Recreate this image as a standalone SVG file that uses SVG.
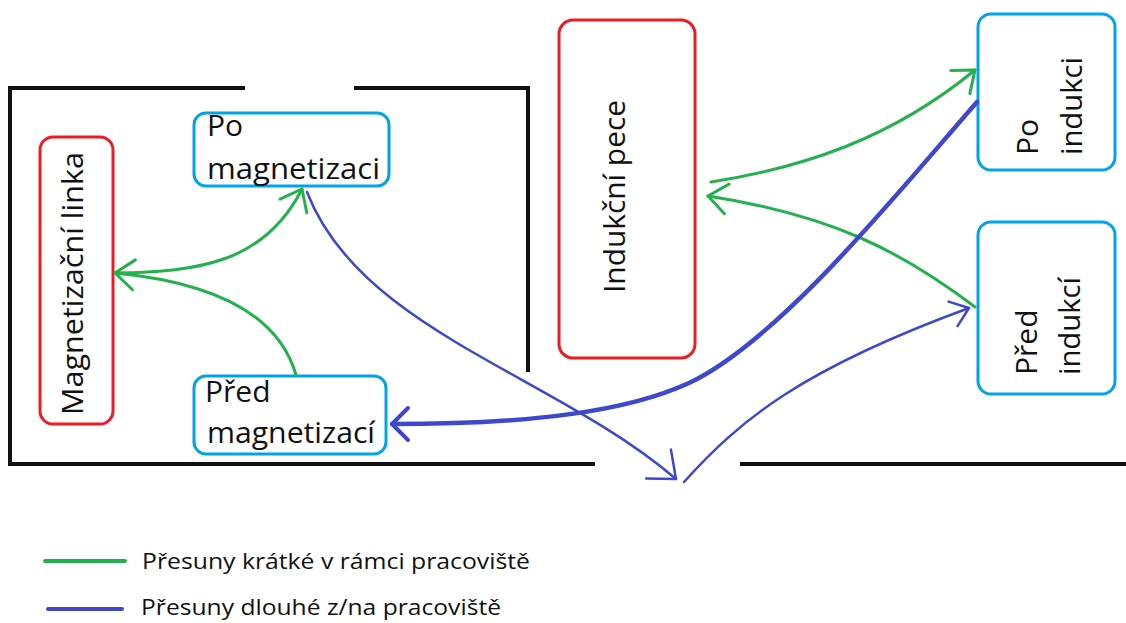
<svg xmlns="http://www.w3.org/2000/svg" width="1126" height="623" viewBox="0 0 1126 623">
  <style>
    .wall { fill: none; stroke: #111; stroke-width: 4; stroke-linecap: butt; }
    .redbox { fill: #fff; stroke: #ed1c24; stroke-width: 3; }
    .bluebox { fill: #fff; stroke: #00a2e8; stroke-width: 3; }
    .lbl { font-family: "Open Sans", "Liberation Sans", sans-serif; font-size: 30px; fill: #111; }
    .leg { font-family: "Open Sans", "Liberation Sans", sans-serif; font-size: 22px; fill: #111; }
    .g { fill: none; stroke: #22b14c; stroke-width: 3; stroke-linecap: round; }
    .b { fill: none; stroke: #3f48cc; stroke-width: 2.5; stroke-linecap: round; }
    .bt { fill: none; stroke: #3f48cc; stroke-width: 4.5; stroke-linecap: round; }
  </style>
  <defs>
    <marker id="mg" markerUnits="userSpaceOnUse" orient="auto" refX="0" refY="0" markerWidth="40" markerHeight="40" overflow="visible">
      <path d="M-19,-15 L0,0 L-19,15" fill="none" stroke="#22b14c" stroke-width="3" stroke-linecap="round" stroke-linejoin="round"/>
    </marker>
    <marker id="mb" markerUnits="userSpaceOnUse" orient="auto" refX="0" refY="0" markerWidth="40" markerHeight="40" overflow="visible">
      <path d="M-23,-19 L0,0 L-23,19" fill="none" stroke="#3f48cc" stroke-width="2.5" stroke-linecap="round" stroke-linejoin="round"/>
    </marker>
    <marker id="mbs" markerUnits="userSpaceOnUse" orient="auto" refX="0" refY="0" markerWidth="40" markerHeight="40" overflow="visible">
      <path d="M-17,-13 L0,0 L-17,13" fill="none" stroke="#3f48cc" stroke-width="2.5" stroke-linecap="round" stroke-linejoin="round"/>
    </marker>
    <marker id="mbt" markerUnits="userSpaceOnUse" orient="auto" refX="0" refY="0" markerWidth="40" markerHeight="40" overflow="visible">
      <path d="M-16,-16 L0,0 L-16,16" fill="none" stroke="#3f48cc" stroke-width="4" stroke-linecap="round" stroke-linejoin="round"/>
    </marker>
  </defs>

  <g id="walls">
    <polyline class="wall" points="245,88 10,88 10,464 595,464"/>
    <polyline class="wall" points="354,88 528,88 528,372"/>
    <line class="wall" x1="740" y1="464" x2="1126" y2="464"/>
  </g>

  <g id="node-magnetizacni-linka">
    <rect class="redbox" x="40" y="137" width="73" height="287" rx="13"/>
    <text class="lbl" transform="translate(83,415) rotate(-90)" textLength="263" lengthAdjust="spacingAndGlyphs">Magnetizační linka</text>
  </g>
  <g id="node-po-magnetizaci">
    <rect class="bluebox" x="194" y="113" width="195" height="73" rx="12"/>
    <text class="lbl" x="207" y="136">Po</text>
    <text class="lbl" x="207" y="179" textLength="173" lengthAdjust="spacingAndGlyphs">magnetizaci</text>
  </g>
  <g id="node-pred-magnetizaci">
    <rect class="bluebox" x="194" y="376" width="192" height="78" rx="12"/>
    <text class="lbl" x="205" y="402">Před</text>
    <text class="lbl" x="207" y="443" textLength="168" lengthAdjust="spacingAndGlyphs">magnetizací</text>
  </g>
  <g id="node-indukcni-pece">
    <rect class="redbox" x="559" y="20" width="136" height="338" rx="14"/>
    <text class="lbl" transform="translate(625,293) rotate(-90)" textLength="193" lengthAdjust="spacingAndGlyphs">Indukční pece</text>
  </g>
  <g id="node-po-indukci">
    <rect class="bluebox" x="978" y="14" width="137" height="156" rx="13"/>
    <text class="lbl" transform="translate(1038,155) rotate(-90)">
      <tspan x="0" y="0">Po</tspan>
      <tspan x="0" y="44" textLength="98" lengthAdjust="spacingAndGlyphs">indukci</tspan>
    </text>
  </g>
  <g id="node-pred-indukci">
    <rect class="bluebox" x="978" y="222" width="137" height="172" rx="13"/>
    <text class="lbl" transform="translate(1037,375) rotate(-90)">
      <tspan x="0" y="0">Před</tspan>
      <tspan x="0" y="43" textLength="98" lengthAdjust="spacingAndGlyphs">indukcí</tspan>
    </text>
  </g>

  <g id="connectors">
    <path class="g" d="M711,182 C800,168 890,140 975,70" marker-end="url(#mg)"/>
    <path class="g" d="M975,307 C900,250 830,215 708,196" marker-end="url(#mg)"/>
    <path class="g" d="M296,375 C283,330 240,285 115,273" marker-end="url(#mg)"/>
    <path class="g" d="M115,273 C200,272 265,262 302,189" marker-end="url(#mg)"/>
    <path class="b" d="M307,192 C360,330 555,375 676,479" marker-end="url(#mb)"/>
    <path class="b" d="M684,482 C740,420 800,370 969,308" marker-end="url(#mbs)"/>
    <path class="bt" d="M977,102 C900,190 780,340 689,383 C630,410 540,424 392,424" marker-end="url(#mbt)"/>
  </g>

  <g id="legend">
    <line x1="45" y1="561" x2="125" y2="561" stroke="#22b14c" stroke-width="4" stroke-linecap="round"/>
    <text class="leg" x="142" y="569" textLength="388" lengthAdjust="spacingAndGlyphs">Přesuny krátké v rámci pracoviště</text>
    <line x1="48" y1="609" x2="122" y2="609" stroke="#3f48cc" stroke-width="4" stroke-linecap="round"/>
    <text class="leg" x="141" y="615" textLength="360" lengthAdjust="spacingAndGlyphs">Přesuny dlouhé z/na pracoviště</text>
  </g>
</svg>
